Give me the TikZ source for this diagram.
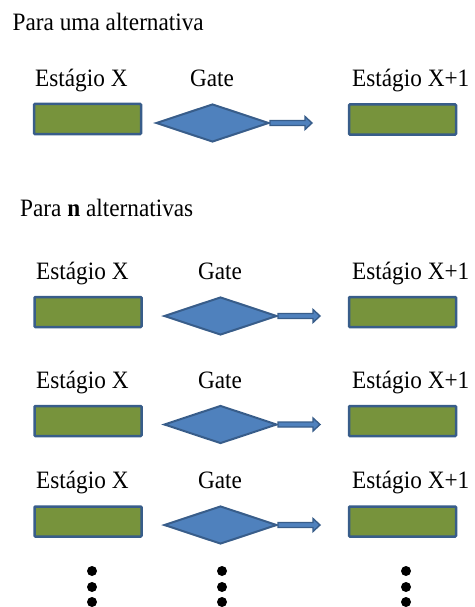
\documentclass[tikz,border=0pt]{standalone}
\usepackage{fontspec}
\setmainfont{Liberation Serif}
\usetikzlibrary{shapes.geometric,calc}
\definecolor{stagegreen}{HTML}{77933C}
\definecolor{gateblue}{HTML}{4F81BD}
\definecolor{edgeblue}{HTML}{385D8A}
% slightly condensed text
\newcommand{\cnd}[1]{\scalebox{0.93}[1]{#1}}
\tikzset{
  lbl/.style={anchor=base west,inner sep=0pt,font=\fontsize{25}{30}\selectfont},
  gatelbl/.style={anchor=base,inner sep=0pt,font=\fontsize{25}{30}\selectfont},
  stagebox/.style={draw=edgeblue,fill=stagegreen,line width=2.5pt,inner sep=0pt,
    minimum width=107pt,minimum height=30pt,rounded corners=0.8pt},
  gatebox/.style={diamond,draw=edgeblue,fill=gateblue,line width=2pt,inner sep=0pt,
    aspect=2.9,minimum width=113pt,minimum height=38pt},
  blockarrow/.style={draw=edgeblue,fill=gateblue,line width=1.4pt,line join=miter},
  dot/.style={circle,fill=black,inner sep=0pt,minimum size=10pt}
}
\begin{document}
\begin{tikzpicture}[x=1pt,y=-1pt]
\useasboundingbox (0,0) rectangle (474,607);

% single alternative
\node[lbl] (h1) at (12.5,31) {\cnd{Para uma alternativa}};
\node[lbl] (a1) at (35,87) {\cnd{Estágio X}};
\node[gatelbl] (b1) at (212,87) {\cnd{Gate}};
\node[lbl] (c1) at (352,87) {\cnd{Estágio X+1}};
\node[stagebox] (s1) at (87.5,119) {};
\node[gatebox] (g1) at (212.5,123) {};
\node[stagebox] (r1) at (402.5,119.5) {};
\coordinate (t1) at (312,123);
\draw[blockarrow] ($(g1.east)+(0,-2.5)$) -- ($(t1)+(-7,-2.5)$) -- ($(t1)+(-7,-6.5)$)
  -- (t1) -- ($(t1)+(-7,6.5)$) -- ($(t1)+(-7,2.5)$) -- ($(g1.east)+(0,2.5)$) -- cycle;

% n alternatives
\node[lbl] (h2) at (20,216) {\cnd{Para \textbf{n} alternativas}};

\foreach \i/\yb/\yr/\yg in {2/279/312/316, 3/388/421/424.5, 4/488/521.5/525}{
  \node[lbl] (a\i) at (36,\yb) {\cnd{Estágio X}};
  \node[gatelbl] (b\i) at (220,\yb) {\cnd{Gate}};
  \node[lbl] (c\i) at (352,\yb) {\cnd{Estágio X+1}};
  \node[stagebox] (s\i) at (88,\yr) {};
  \node[gatebox] (g\i) at (220.5,\yg) {};
  \node[stagebox] (r\i) at (402.5,\yr) {};
  \coordinate (t\i) at (320,\yg);
  \draw[blockarrow] ($(g\i.east)+(0,-2.5)$) -- ($(t\i)+(-7,-2.5)$) -- ($(t\i)+(-7,-6.5)$)
    -- (t\i) -- ($(t\i)+(-7,6.5)$) -- ($(t\i)+(-7,2.5)$) -- ($(g\i.east)+(0,2.5)$) -- cycle;
}

% ellipsis dots
\foreach \x/\n in {92/p,222/q,406/r}{
  \node[dot] (\n1) at (\x,571) {};
  \node[dot] (\n2) at (\x,587) {};
  \node[dot] (\n3) at (\x,602) {};
}
\end{tikzpicture}
\end{document}
